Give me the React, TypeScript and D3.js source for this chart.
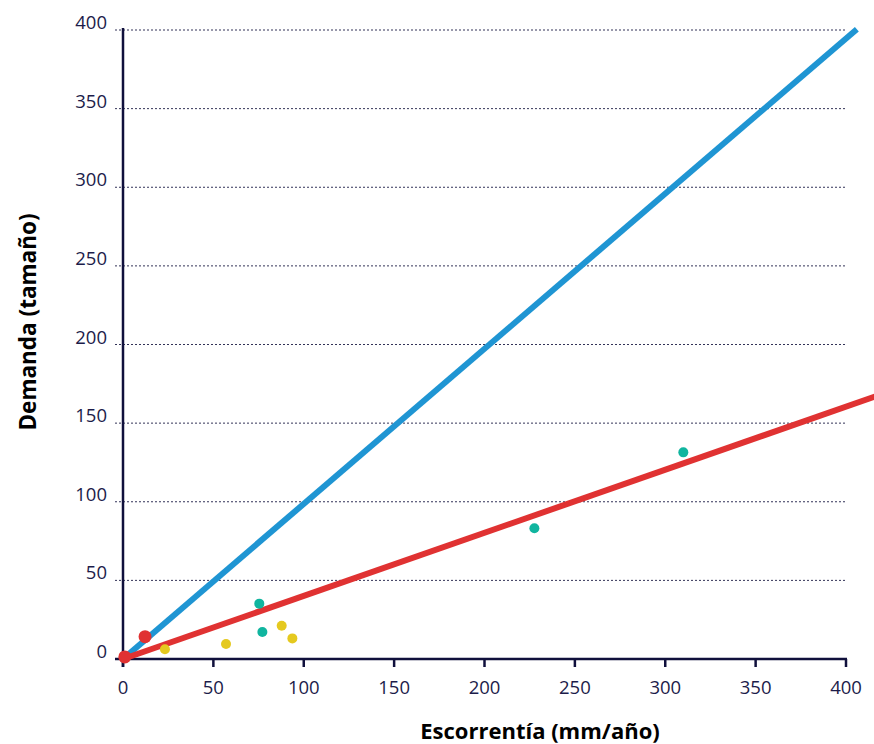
import React from "react";
import * as d3 from "d3";

const xTicks = [0, 50, 100, 150, 200, 250, 300, 350, 400];
const yTicks = [0, 50, 100, 150, 200, 250, 300, 350, 400];

const yellowX = [23.2, 57, 87.8, 93.7];
const yellowY = [6.2, 9.5, 21.2, 13.1];
const tealX = [75.4, 77.1, 227.6, 310];
const tealY = [35.2, 17.2, 83.1, 131.4];
const redX = [1, 12.2];
const redY = [1.3, 14.2];

const blueLineX = [0, 406];
const blueLineY = [0, 400.5];
const redLineX = [0, 420];
const redLineY = [0, 168.5];

const xTitle = "Escorrentía (mm/año)";
const yTitle = "Demanda (tamaño)";

export default function App() {
  const W = 874, H = 744;
  const x = d3.scaleLinear().domain([0, 400]).range([123, 846]);
  const y = d3.scaleLinear().domain([0, 400]).range([659, 30]);
  const navy = "#10103c";
  const textCol = "#1c1c4a";
  const font = "'Open Sans', 'Noto Sans', sans-serif";
  const line = d3.line<[number, number]>().x(d => x(d[0])).y(d => y(d[1]));
  const blue: [number, number][] = blueLineX.map((v, i) => [v, blueLineY[i]]);
  const red: [number, number][] = redLineX.map((v, i) => [v, redLineY[i]]);

  return (
    <svg width={W} height={H} style={{ position: "absolute", left: 0, top: 0, background: "#fff" }} fontFamily={font}>
      {yTicks.filter(t => t > 0).map(t => (
        <line key={"g" + t} x1={115} x2={846} y1={y(t)} y2={y(t)} stroke={navy} strokeWidth={1} strokeDasharray="2,2" opacity={0.85} />
      ))}
      {yTicks.map(t => (
        <text key={"yt" + t} x={107} y={y(t) - 1} textAnchor="end" fontSize={18.5} fill={textCol}>{t}</text>
      ))}
      {/* axes */}
      <line x1={123} x2={123} y1={28} y2={667} stroke={navy} strokeWidth={2.5} />
      <line x1={115} x2={847} y1={659} y2={659} stroke={navy} strokeWidth={2.5} />
      {xTicks.map(t => (
        <g key={"xt" + t}>
          <line x1={x(t)} x2={x(t)} y1={659} y2={667} stroke={navy} strokeWidth={2.5} />
          <text x={x(t)} y={694} textAnchor="middle" fontSize={18.5} fill={textCol}>{t}</text>
        </g>
      ))}
      <path d={line(blue) || ""} stroke="#1f95d3" strokeWidth={6} fill="none" />
      <path d={line(red) || ""} stroke="#e03232" strokeWidth={6} fill="none" />
      {yellowX.map((v, i) => (
        <circle key={"yc" + i} cx={x(v)} cy={y(yellowY[i])} r={5} fill="#e5c91f" />
      ))}
      {tealX.map((v, i) => (
        <circle key={"tc" + i} cx={x(v)} cy={y(tealY[i])} r={5} fill="#10b59f" />
      ))}
      {redX.map((v, i) => (
        <circle key={"rc" + i} cx={x(v)} cy={y(redY[i])} r={6.5} fill="#e03232" />
      ))}
      <text x={540} y={739} textAnchor="middle" fontSize={22} fontWeight="bold" fill="#000">{xTitle}</text>
      <text transform={`translate(36,322) rotate(-90)`} textAnchor="middle" fontSize={22.5} fontWeight="bold" fill="#000">{yTitle}</text>
    </svg>
  );
}
